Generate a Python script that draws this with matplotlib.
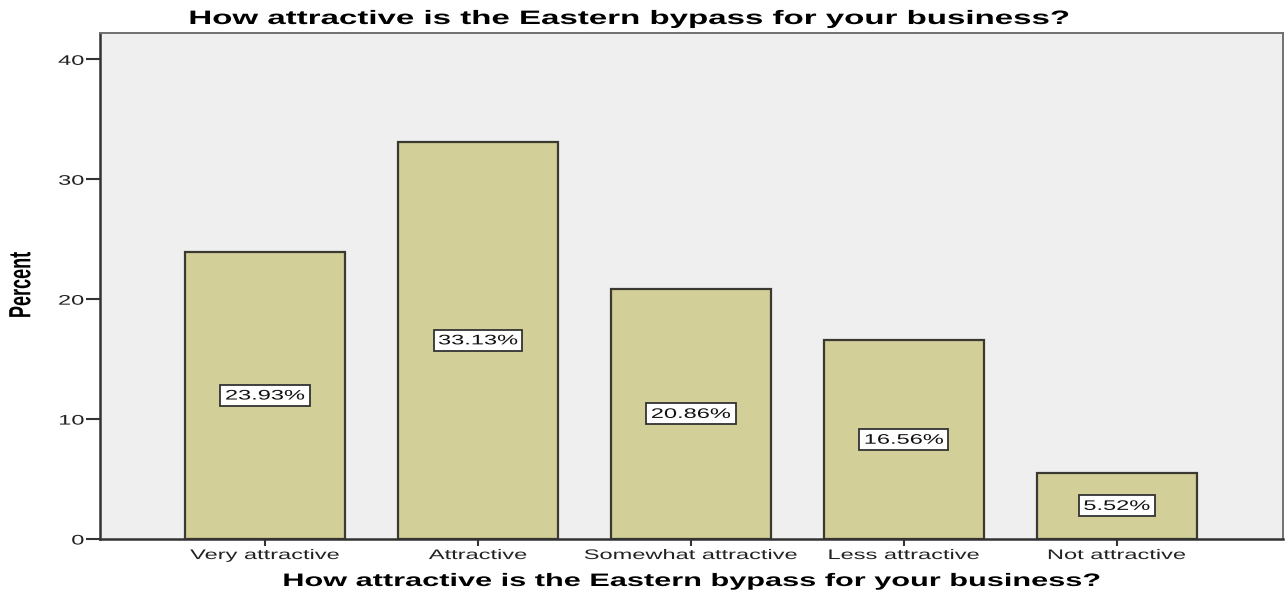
import matplotlib
matplotlib.use("Agg")
import matplotlib.pyplot as plt
from matplotlib.patheffects import AbstractPathEffect
from matplotlib.transforms import Affine2D
from matplotlib.path import Path

categories = ["Very attractive", "Attractive", "Somewhat attractive",
              "Less attractive", "Not attractive"]
percents = [23.93, 33.13, 20.86, 16.56, 5.52]
yticks = [0, 10, 20, 30, 40]
title = "How attractive is the Eastern bypass for your business?"

WIDEN = 1.7  # horizontal stretch of the typeface


class Widen(AbstractPathEffect):
    """Draw text glyphs stretched horizontally about an anchor."""

    def __init__(self, sx, anchor="center"):
        super().__init__()
        self.sx = sx
        self.anchor = anchor

    def draw_path(self, renderer, gc, tpath, affine, rgbFace=None):
        ext = tpath.get_extents(affine)
        if self.anchor == "right":
            ax0 = ext.x1
        elif self.anchor == "left":
            ax0 = ext.x0
        else:
            ax0 = 0.5 * (ext.x0 + ext.x1)
        aff = affine + Affine2D().translate(-ax0, 0).scale(self.sx, 1).translate(ax0, 0)
        renderer.draw_path(gc, tpath, aff, rgbFace)


def wide_box(x0, y0, width, height, mutation_size, padx=4.5, pady=3.5):
    cx = x0 + width / 2
    w = width * WIDEN + 2 * padx
    b, t = y0 - pady, y0 + height + pady
    l, r = cx - w / 2, cx + w / 2
    return Path([(l, b), (r, b), (r, t), (l, t), (l, b)], closed=True)


plt.rcParams["font.family"] = ["Liberation Sans", "DejaVu Sans"]

fig = plt.figure(figsize=(12.85, 5.98), dpi=100)
fig.patch.set_facecolor("white")
ax = fig.add_axes([100 / 1285, 59 / 598, 1183 / 1285, 506 / 598])
ax.set_facecolor("#efefef")

x = list(range(len(categories)))
ax.bar(x, percents, width=0.75, color="#d3cf98", edgecolor="#3a3a32",
       linewidth=1.6, zorder=2)

for xi, v in zip(x, percents):
    ax.text(xi, v / 2, f"{v:.2f}%", ha="center", va="center", fontsize=10,
            color="#111111", zorder=3, path_effects=[Widen(WIDEN)],
            bbox=dict(boxstyle=wide_box, fc="white", ec="#333333", lw=1.3))

ax.set_xlim(-0.775, 4.78)
ax.set_ylim(0, 42.2)
ax.set_xticks(x)
ax.set_xticklabels(categories, fontsize=10, color="#222222")
ax.set_yticks(yticks)
ax.set_yticklabels([str(t) for t in yticks], fontsize=10, color="#222222")
ax.tick_params(axis="x", length=5, width=1.5, color="#333333", pad=1.5)
ax.tick_params(axis="y", length=10, width=1.5, color="#333333", pad=1.5)
for lab in ax.get_xticklabels():
    lab.set_path_effects([Widen(WIDEN)])
for lab in ax.get_yticklabels():
    lab.set_path_effects([Widen(WIDEN, anchor="right")])

for side in ("left", "bottom"):
    ax.spines[side].set_color("#333333")
    ax.spines[side].set_linewidth(1.8)
for side in ("top", "right"):
    ax.spines[side].set_color("#707070")
    ax.spines[side].set_linewidth(1.4)

fig.text(630 / 1285, 1 - 19.5 / 598, title, ha="center", va="center",
         fontsize=14, fontweight="bold", path_effects=[Widen(WIDEN)])
fig.text(691 / 1285, 1 - 581.5 / 598, title, ha="center", va="center",
         fontsize=13, fontweight="bold", path_effects=[Widen(WIDEN)])
fig.text(21.5 / 1285, 1 - 285 / 598, "Percent", rotation=90, ha="center",
         va="center", fontsize=13, fontweight="bold",
         path_effects=[Widen(WIDEN)])

fig.savefig("out.png", dpi=100)
